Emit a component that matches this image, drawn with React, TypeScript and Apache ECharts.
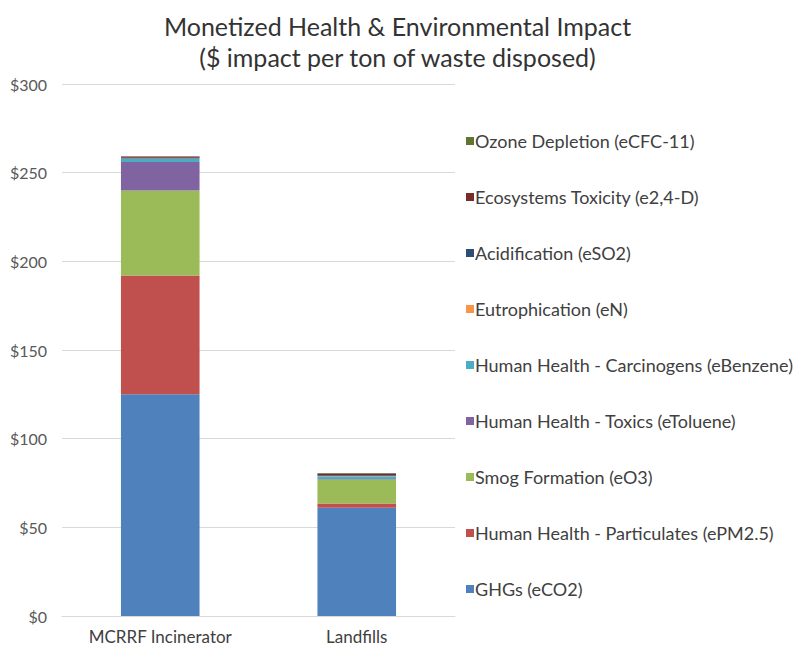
import React, { useEffect, useRef } from "react";
import * as echarts from "echarts";

const categories = ["MCRRF Incinerator", "Landfills"];
const seriesNames = [
  "GHGs (eCO2)",
  "Human Health - Particulates (ePM2.5)",
  "Smog Formation (eO3)",
  "Human Health - Toxics (eToluene)",
  "Human Health - Carcinogens (eBenzene)",
  "Eutrophication (eN)",
  "Acidification (eSO2)",
  "Ecosystems Toxicity (e2,4-D)",
  "Ozone Depletion (eCFC-11)",
];
const ghg = [125, 61];
const particulates = [67, 2.5];
const smog = [48, 13.5];
const toxics = [16, 0.3];
const carcinogens = [1.8, 1.5];
const eutrophication = [0.2, 0.2];
const acidification = [0.4, 0.3];
const ecosystems = [0.7, 1.0];
const ozone = [0.1, 0.3];
const seriesValues = [ghg, particulates, smog, toxics, carcinogens, eutrophication, acidification, ecosystems, ozone];
const colors = ["#4F81BD", "#C0504D", "#9BBB59", "#8064A2", "#4BACC6", "#F79646", "#2C4D75", "#772C2A", "#5F7530"];
const yTicks = [0, 50, 100, 150, 200, 250, 300];

const FONT = "Lato, 'Open Sans', sans-serif";

export default function App() {
  const ref = useRef<HTMLDivElement>(null);
  useEffect(() => {
    if (!ref.current) return;
    const chart = echarts.init(ref.current, undefined, { renderer: "svg" });
    chart.setOption({
      animation: false,
      backgroundColor: "#ffffff",
      title: {
        text: "Monetized Health & Environmental Impact\n($ impact per ton of waste disposed)",
        left: "center",
        top: 5,
        textStyle: {
          fontFamily: FONT,
          fontSize: 25,
          fontWeight: "normal",
          color: "#333333",
          lineHeight: 31,
        },
      },
      legend: {
        orient: "vertical",
        left: 461,
        top: 126,
        data: [...seriesNames].reverse(),
        itemWidth: 8,
        itemHeight: 8,
        itemGap: 36,
        icon: "rect",
        textStyle: { fontFamily: FONT, fontSize: 18, color: "#404040", lineHeight: 20, padding: [0, 0, 0, -4] },
      },
      grid: { left: 62, right: 340, top: 84, bottom: 34 },
      xAxis: {
        type: "category",
        data: categories,
        axisTick: { show: false },
        axisLine: { lineStyle: { color: "#d9d9d9" } },
        axisLabel: { interval: 0, hideOverlap: false, fontFamily: FONT, fontSize: 17, color: "#404040", margin: 12 },
      },
      yAxis: {
        type: "value",
        min: 0,
        max: 300,
        interval: 50,
        axisLine: { show: false },
        axisTick: { show: false },
        splitLine: { lineStyle: { color: "#d9d9d9" } },
        axisLabel: {
          fontFamily: FONT,
          fontSize: 16,
          color: "#595959",
          margin: 15,
          formatter: (v: number) => (yTicks.includes(v) ? "$" + v : ""),
        },
      },
      series: seriesNames.map((name, i) => ({
        name,
        type: "bar",
        stack: "total",
        barWidth: "40%",
        itemStyle: { color: colors[i] },
        data: seriesValues[i],
      })),
    });
    return () => chart.dispose();
  }, []);
  return <div ref={ref} style={{ position: "fixed", left: 0, top: 0, width: 795, height: 650 }} />;
}
